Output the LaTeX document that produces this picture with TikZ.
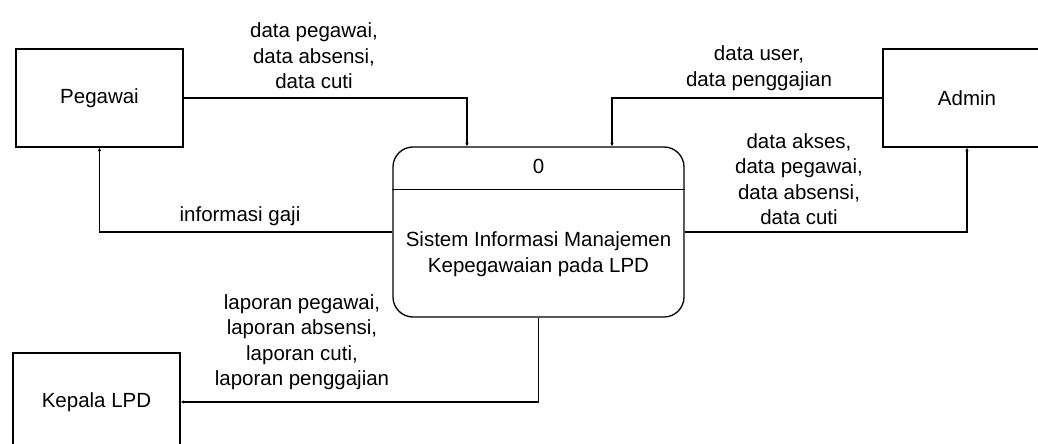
\documentclass[tikz,border=0pt]{standalone}
\usepackage{fontspec}
\setmainfont{Liberation Sans}
\usetikzlibrary{arrows.meta}
\begin{document}
\begin{tikzpicture}[x=1pt,y=-1pt,
  every node/.style={font=\fontsize{20.5}{25.5}\selectfont},
  entity/.style={draw,line width=1.3pt,minimum height=98pt,inner sep=0pt},
  procbox/.style={draw,line width=1.3pt,rounded corners=20pt,minimum width=291pt,minimum height=170pt,inner sep=0pt},
  flow/.style={line width=1.3pt,-{Latex[length=3.5pt,width=3.5pt]}},
  lbl/.style={align=center,inner sep=0pt}]
\useasboundingbox (0,0) rectangle (1038,444);
\node[entity,minimum width=167pt] (peg) at (99.5,98) {Pegawai};
\node[entity,minimum width=168pt] (admin) at (967,98) {Admin};
\node[entity,minimum width=167pt] (kep) at (96.5,402) {Kepala LPD};
\node[procbox] (proc) at (538.5,232) {};
\draw[line width=1.3pt] ([yshift=-43pt]proc.north west) -- ([yshift=-43pt]proc.north east);
\node (zero) at ([yshift=-20pt]proc.north) {0};
\node[lbl] (ptext) at ([yshift=-22pt]proc.center) {Sistem Informasi Manajemen\\Kepegawaian pada LPD};
\draw[flow] (peg.east) -| ([xshift=-71.5pt]proc.north);
\draw[flow] (admin.west) -| ([xshift=73.5pt]proc.north);
\draw[flow] (proc.west) -| (peg.south);
\draw[flow] (proc.east) -| (admin.south);
\draw[flow] (proc.south) |- (kep.east);
\node[lbl] (l1) at (314,56) {data pegawai,\\data absensi,\\data cuti};
\node[lbl] (l2) at (759,68) {data user,\\data penggajian};
\node[lbl] (l3) at (799,179) {data akses,\\data pegawai,\\data absensi,\\data cuti};
\node[lbl] (l4) at (240,216) {informasi gaji};
\node[lbl] (l5) at (302,342) {laporan pegawai,\\laporan absensi,\\laporan cuti,\\laporan penggajian};
\end{tikzpicture}
\end{document}
